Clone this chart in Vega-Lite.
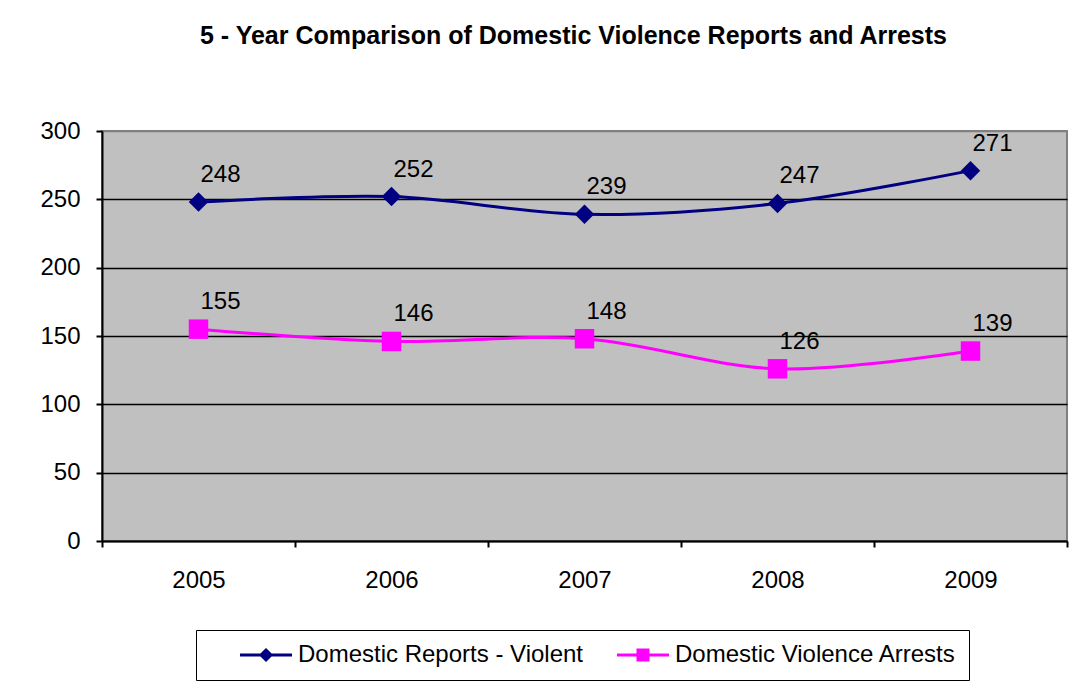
{
  "$schema": "https://vega.github.io/schema/vega-lite/v6.json",
  "width": 965,
  "height": 410,
  "autosize": {"type": "none"},
  "padding": {"left": 102, "top": 131, "right": 17, "bottom": 146},
  "background": "white",
  "title": {
    "text": "5 - Year Comparison of Domestic Violence Reports and Arrests",
    "font": "Liberation Sans",
    "fontSize": 25,
    "fontWeight": "bold",
    "color": "black",
    "anchor": "middle",
    "baseline": "alphabetic",
    "offset": 50,
    "dx": -11
  },
  "config": {
    "font": "Liberation Sans",
    "view": {"fill": "#C0C0C0", "stroke": "#808080", "strokeWidth": 2}
  },
  "data": {
    "values": [
      {"year": "2005", "series": "Domestic Reports - Violent", "value": 248},
      {"year": "2006", "series": "Domestic Reports - Violent", "value": 252},
      {"year": "2007", "series": "Domestic Reports - Violent", "value": 239},
      {"year": "2008", "series": "Domestic Reports - Violent", "value": 247},
      {"year": "2009", "series": "Domestic Reports - Violent", "value": 271},
      {"year": "2005", "series": "Domestic Violence Arrests", "value": 155},
      {"year": "2006", "series": "Domestic Violence Arrests", "value": 146},
      {"year": "2007", "series": "Domestic Violence Arrests", "value": 148},
      {"year": "2008", "series": "Domestic Violence Arrests", "value": 126},
      {"year": "2009", "series": "Domestic Violence Arrests", "value": 139}
    ]
  },
  "encoding": {
    "x": {
      "field": "year",
      "type": "ordinal",
      "scale": {"type": "band", "paddingInner": 0, "paddingOuter": 0},
      "axis": {
        "title": null,
        "labelAngle": 0,
        "labelFontSize": 24,
        "labelColor": "black",
        "labelPadding": 21,
        "tickBand": "extent",
        "tickSize": 6,
        "tickColor": "black",
        "tickWidth": 2,
        "domainColor": "black",
        "domainWidth": 2,
        "grid": false
      }
    },
    "y": {
      "field": "value",
      "type": "quantitative",
      "scale": {"domain": [0, 300], "nice": false},
      "axis": {
        "title": null,
        "values": [0, 50, 100, 150, 200, 250, 300],
        "labelFontSize": 24,
        "labelColor": "black",
        "labelPadding": 16,
        "tickSize": 6,
        "tickColor": "black",
        "tickWidth": 2,
        "domainColor": "black",
        "domainWidth": 2,
        "grid": true,
        "gridColor": {"condition": {"test": "datum.value === 300", "value": "#808080"}, "value": "black"},
        "gridWidth": 1.5,
        "gridOpacity": 1
      }
    }
  },
  "layer": [
    {
      "mark": {"type": "line", "interpolate": "catmull-rom", "strokeWidth": 3},
      "encoding": {
        "color": {
          "field": "series",
          "type": "nominal",
          "scale": {"domain": ["Domestic Reports - Violent", "Domestic Violence Arrests"], "range": ["#000080", "#FF00FF"]},
          "legend": {
            "title": null,
            "orient": "none",
            "legendX": 94,
            "legendY": 499,
            "direction": "horizontal",
            "columns": 2,
            "padding": 13,
            "strokeColor": "black",
            "fillColor": "white",
            "labelFontSize": 24,
            "labelColor": "black",
            "labelLimit": 500,
            "symbolSize": 400,
            "symbolStrokeWidth": 3,
            "symbolOffset": 45,
            "labelOffset": 20,
            "columnPadding": 3,
            "encode": {
              "symbols": {
                "update": {
                  "shape": {"signal": "datum.value === 'Domestic Reports - Violent' ? 'M-2.6,0H2.6M0,-0.5L0.5,0L0,0.5L-0.5,0Z' : 'M-2.6,0H2.6M-0.5,-0.5H0.5V0.5H-0.5Z'"},
                  "fill": {"scale": "color", "field": "value"},
                  "stroke": {"scale": "color", "field": "value"},
                  "strokeWidth": {"value": 3},
                  "opacity": {"value": 1}
                }
              }
            }
          }
        }
      }
    },
    {
      "transform": [{"filter": "datum.series === 'Domestic Reports - Violent'"}],
      "mark": {"type": "point", "shape": "diamond", "filled": true, "opacity": 1, "size": 380, "strokeWidth": 0, "color": "#000080"}
    },
    {
      "transform": [{"filter": "datum.series === 'Domestic Violence Arrests'"}],
      "mark": {"type": "point", "shape": "square", "filled": true, "opacity": 1, "size": 380, "strokeWidth": 0, "color": "#FF00FF"}
    },
    {
      "mark": {"type": "text", "dx": 22, "dy": -27, "fontSize": 24, "color": "black"},
      "encoding": {"text": {"field": "value", "type": "quantitative"}}
    }
  ]
}
